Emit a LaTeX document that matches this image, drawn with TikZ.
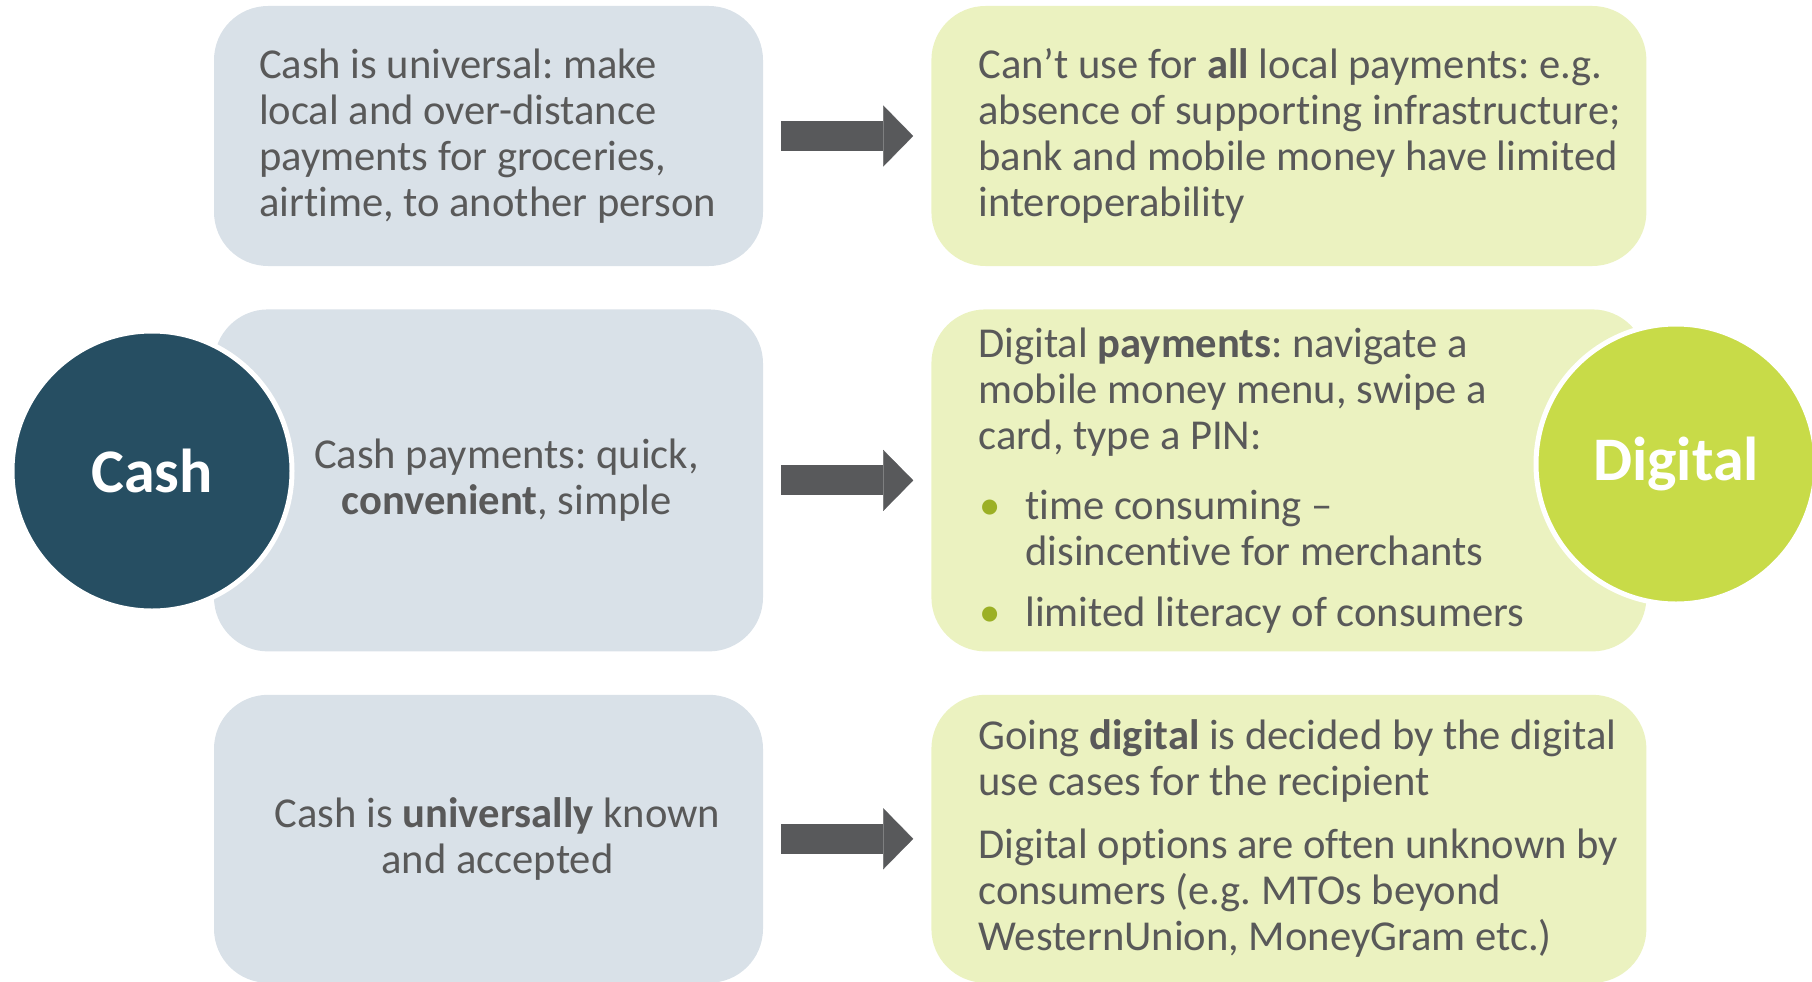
\documentclass[tikz,border=0pt]{standalone}
\usepackage{fontspec}
\setmainfont{Carlito}[Ligatures=NoCommon]
\usetikzlibrary{positioning,arrows.meta}
\definecolor{cashblue}{HTML}{264E62}
\definecolor{digigreen}{HTML}{C8DB48}
\definecolor{cashfill}{HTML}{D9E1E8}
\definecolor{digifill}{HTML}{EBF2C0}
\definecolor{arrowgray}{HTML}{58595B}
\definecolor{textgray}{HTML}{595959}
\definecolor{dotgreen}{HTML}{9BB025}
\newcommand{\bul}{\makebox[47pt][l]{\hspace{1pt}\textcolor{dotgreen}{•}}}
\frenchspacing

\begin{document}
\begin{tikzpicture}[
  x=1pt, y=-1pt,
  node distance=43pt and 168pt,
  box/.style={rounded corners=54pt, inner sep=0pt, minimum height=#1},
  cashbox/.style={box=#1, fill=cashfill, minimum width=549pt},
  digibox/.style={box=#1, fill=digifill, minimum width=715pt},
  txt/.style={inner sep=0pt, text=textgray, font=\fontsize{42.6}{46}\selectfont},
  badge/.style={circle, draw=white, line width=5pt, minimum size=280pt, inner sep=0pt,
    text=white, font=\bfseries\fontsize{62}{70}\selectfont},
  fat/.style={arrowgray, line width=30pt, -{Triangle[width=61pt, length=30pt, line width=0.1pt]}}
]
\useasboundingbox (0,0) rectangle (1812,982);

% cash column
\node[cashbox=260pt] (c1) at (488.5,136) {};
\node[cashbox=342pt, below=of c1] (c2) {};
\node[cashbox=288pt, below=of c2] (c3) {};
% digital column
\node[digibox=260pt, right=of c1] (d1) {};
\node[digibox=342pt, right=of c2] (d2) {};
\node[digibox=288pt, right=of c3] (d3) {};

\node[txt, anchor=west, align=left] (t1) at ([xshift=45pt]c1.west)
  {Cash is universal: make\\ local and over-distance\\ payments for groceries,\\ airtime, to another person};
\node[txt, align=center] (t2) at ([xshift=18pt]c2.center)
  {Cash payments: quick,\\ \textbf{convenient}, simple};
\node[txt, align=center] (t3) at ([xshift=9pt]c3.center)
  {Cash is \textbf{universally} known\\ and accepted};

\node[txt, anchor=west, align=left] (u1) at ([xshift=47pt]d1.west)
  {Can’t use for \textbf{all} local payments: e.g.\\ absence of supporting infrastructure;\\ bank and mobile money have limited\\ interoperability};
\node[txt, anchor=west, align=left] (u2) at ([xshift=47pt]d2.west)
  {Digital \textbf{payments}: navigate a\\ mobile money menu, swipe a\\ card, type a PIN:\\[24pt]
   \bul time consuming –\\ \hspace*{47pt}disincentive for merchants\\[15pt]
   \bul limited literacy of consumers};
\node[txt, anchor=west, align=left] (u3) at ([xshift=47pt]d3.west)
  {Going \textbf{digital} is decided by the digital\\ use cases for the recipient\\[17pt]
   Digital options are often unknown by\\ consumers (e.g. MTOs beyond\\ WesternUnion, MoneyGram etc.)};

% block arrows between the columns
\draw[fat] ([xshift=18pt]c1.east) -- ([xshift=-18pt]d1.west);
\draw[fat] ([xshift=18pt]c2.east) -- ([xshift=-18pt]d2.west);
\draw[fat] ([xshift=18pt]c3.east) -- ([xshift=-18pt]d3.west);

% the two badges
\node[badge, fill=cashblue] (cash) at (152,471) {Cash};
\node[badge, fill=digigreen] (digital) at (1676,464) {Digital};
\end{tikzpicture}
\end{document}
